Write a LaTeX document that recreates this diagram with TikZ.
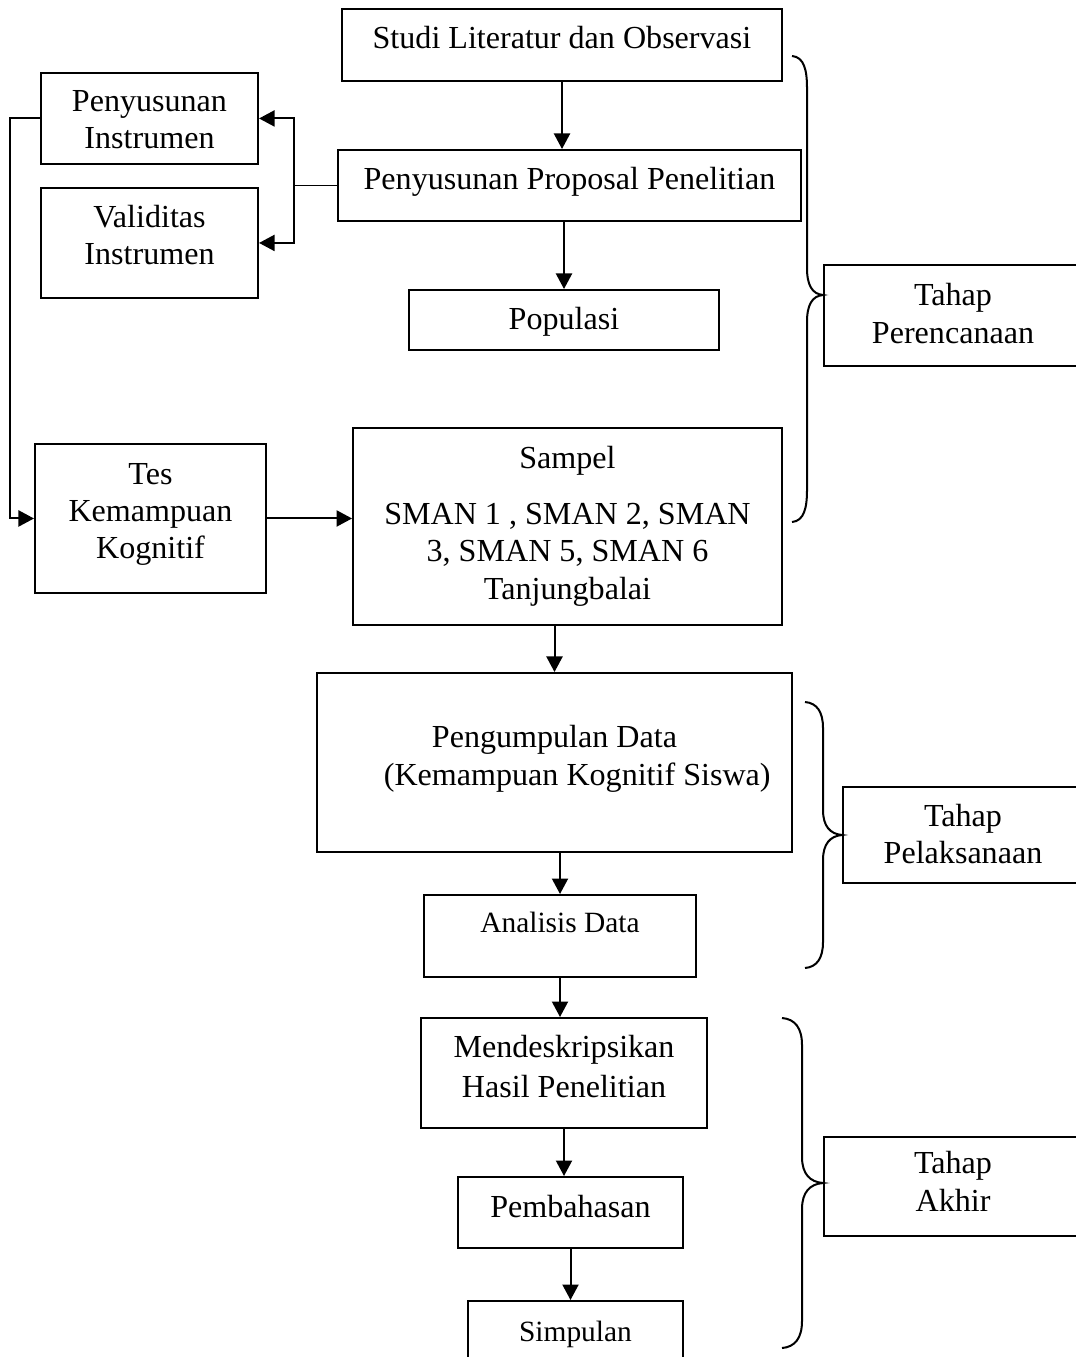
\documentclass[tikz,border=0pt]{standalone}
\usepackage{fontspec}
\setmainfont{Liberation Serif}
\usetikzlibrary{arrows.meta}

\tikzset{
  kotak/.style={draw, line width=0.75pt, inner sep=0pt, anchor=north, align=flush center,
    font=\fontsize{12}{14}\selectfont},
  panah/.style={-{Triangle[length=5.8pt,width=6pt]}, line width=0.75pt},
  kurung/.style={line width=0.75pt}
}

\begin{document}
\begin{tikzpicture}[x=0.374pt, y=-0.374pt]
\useasboundingbox (0,0) rectangle (1076,1357);
\clip (0,0) rectangle (1076,1357);

\node[kotak, text width=164.6pt, text height=14.6pt, text depth=12.3pt] (studi) at (562,8) {Studi Literatur dan Observasi};
\node[kotak, text width=173.2pt, text height=14.6pt, text depth=12.0pt] (proposal) at (569.5,149) {Penyusunan Proposal Penelitian};
\node[kotak, text width=115.9pt, text height=14.6pt, text depth=7.8pt] (populasi) at (564,289) {Populasi};
\node[kotak, text width=81.2pt, text height=14.4pt, text depth=19.6pt] (instrumen) at (149.5,72) {Penyusunan\\Instrumen};
\node[kotak, text width=81.2pt, text height=14.6pt, text depth=26.5pt] (validitas) at (149.5,187) {Validitas\\Instrumen};
\node[kotak, text width=86.4pt, text height=15.0pt, text depth=40.7pt] (tes) at (150.5,443) {Tes\\Kemampuan\\Kognitif};
\node[kotak, text width=160.4pt, text height=15.0pt, text depth=58.7pt] (sampel) at (567.5,427) {Sampel\\[7pt]SMAN 1 , SMAN 2, SMAN\\3, SMAN 5, SMAN 6\\Tanjungbalai};
\node[kotak, text width=177.7pt, text height=28.0pt, text depth=38.9pt] (pengumpulan) at (554.5,672) {Pengumpulan Data\\\hspace*{17pt}(Kemampuan Kognitif Siswa)};
\node[kotak, font=\fontsize{11}{13}\selectfont, text width=101.7pt, text height=14.2pt, text depth=16.5pt] (analisis) at (560,894) {Analisis Data};
\node[kotak, text width=107.0pt, text height=14.6pt, text depth=26.5pt] (deskripsi) at (564,1017) {Mendeskripsikan\\[1pt]Hasil Penelitian};
\node[kotak, text width=84.2pt, text height=15.3pt, text depth=11.3pt] (pembahasan) at (570.5,1176) {Pembahasan};
\node[kotak, font=\fontsize{11}{13}\selectfont, text width=80.4pt, text height=15.0pt, text depth=11.9pt] (simpulan) at (575.5,1300) {Simpulan};

\node[kotak, text width=96.5pt, text height=15.3pt, text depth=22.5pt] (perencanaan) at (953,264) {Tahap\\Perencanaan};
\node[kotak, text width=89.8pt, text height=14.6pt, text depth=21.3pt] (pelaksanaan) at (963,786) {Tahap\\Pelaksanaan};
\node[kotak, text width=96.5pt, text height=13.8pt, text depth=23.2pt] (akhir) at (953,1136) {Tahap\\Akhir};

\draw[panah] (studi.south) -- (studi.south |- proposal.north);
\draw[panah] (populasi.north |- proposal.south) -- (populasi.north);
\path (proposal.west) ++(-43,0) coordinate (cabang);
\draw[line width=0.4pt] (proposal.west) -- (cabang);
\draw[panah] (cabang) |- (instrumen.east);
\draw[panah] (cabang) |- (validitas.east);
\draw[panah] (instrumen.west) -- ++(-30,0) |- (tes.west);
\draw[panah] (tes.east) -- (tes.east -| sampel.west);
\draw[panah] (pengumpulan.north |- sampel.south) -- (pengumpulan.north);
\draw[panah] (analisis.north |- pengumpulan.south) -- (analisis.north);
\draw[panah] (analisis.south) -- (analisis.south |- deskripsi.north);
\draw[panah] (deskripsi.south) -- (deskripsi.south |- pembahasan.north);
\draw[panah] (pembahasan.south) -- (pembahasan.south |- simpulan.north);

\draw[kurung] (792,56) .. controls (804,57) and (807,70) .. (807,88) -- (807,268)
  .. controls (807,285) and (812,294) .. (823,295) .. controls (812,296) and (807,305) .. (807,322)
  -- (807,490) .. controls (807,508) and (804,521) .. (792,522);
\draw[kurung] (805,702) .. controls (817,703) and (823,712) .. (823,728) -- (823,810)
  .. controls (823,826) and (830,834) .. (842,835) .. controls (830,836) and (823,844) .. (823,860)
  -- (823,942) .. controls (823,958) and (817,967) .. (805,968);
\draw[kurung] (782,1018) .. controls (795,1019) and (802,1028) .. (802,1045) -- (802,1157)
  .. controls (802,1174) and (810,1182) .. (823,1183) .. controls (810,1184) and (802,1192) .. (802,1209)
  -- (802,1321) .. controls (802,1338) and (795,1347) .. (782,1348);
\end{tikzpicture}
\end{document}
